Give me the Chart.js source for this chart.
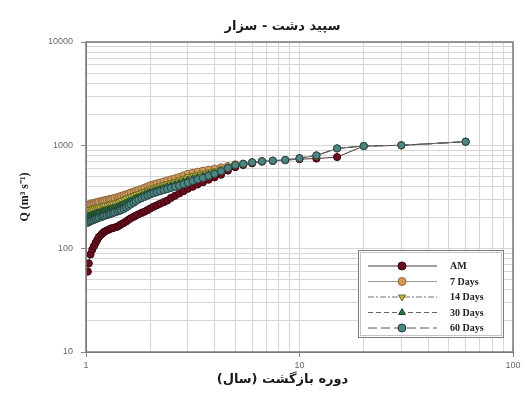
<!DOCTYPE html>
<html>
<head>
<meta charset="utf-8">
<title>سپید دشت - سزار</title>
<script src="https://cdn.jsdelivr.net/npm/chart.js@4.4.1/dist/chart.umd.min.js"></script>
<style>
  html, body { margin: 0; padding: 0; background: #ffffff; }
  #wrap { width: 527px; height: 395px; }
</style>
</head>
<body>
<div id="wrap"><canvas id="chart" width="527" height="395"></canvas></div>
<script>
// Return period (years), Weibull plotting positions, ascending
const returnPeriod = [
  1.02, 1.03, 1.05, 1.07, 1.09, 1.11, 1.13, 1.15, 1.18, 1.20,
  1.22, 1.25, 1.28, 1.30, 1.33, 1.36, 1.40, 1.43, 1.46, 1.50,
  1.54, 1.58, 1.62, 1.67, 1.71, 1.76, 1.82, 1.88, 1.94, 2.00,
  2.07, 2.14, 2.22, 2.31, 2.40, 2.50, 2.61, 2.73, 2.86, 3.00,
  3.16, 3.33, 3.53, 3.75, 4.00, 4.29, 4.62, 5.00, 5.45, 6.00,
  6.67, 7.50, 8.57, 10.00, 12.00, 15.00, 20.00, 30.00, 60.00
];

// Discharge Q (m3/s) for each series
const qAM = [
  60, 72, 88, 98, 106, 114, 122, 130, 137, 142,
  146, 150, 153, 156, 158, 160, 163, 167, 172, 177,
  183, 190, 197, 203, 209, 215, 222, 228, 236, 245,
  254, 262, 272, 282, 292, 310, 325, 342, 360, 380,
  398, 418, 440, 465, 490, 520, 570, 615, 645, 670,
  695, 705, 718, 735, 745, 770, 985, 1000, 1085
];
const q7Days = [
  265, 268, 271, 274, 277, 280, 283, 286, 288, 291,
  294, 297, 300, 303, 306, 310, 314, 319, 324, 330,
  336, 342, 349, 356, 363, 371, 380, 389, 399, 410,
  418, 427, 436, 446, 457, 468, 480, 494, 511, 530,
  543, 556, 568, 582, 595, 612, 630, 655, 665, 686,
  703, 710, 722, 750, 795, 930, 985, 1000, 1085
];
const q14Days = [
  235, 238, 241, 244, 247, 250, 253, 255, 258, 260,
  263, 266, 269, 272, 275, 279, 284, 288, 294, 300,
  307, 314, 321, 329, 336, 344, 353, 361, 370, 380,
  389, 398, 408, 418, 428, 439, 451, 465, 482, 500,
  514, 527, 540, 555, 570, 592, 622, 650, 663, 685,
  703, 710, 722, 750, 795, 932, 985, 1000, 1085
];
const q30Days = [
  205, 208, 211, 214, 217, 220, 223, 226, 229, 232,
  235, 238, 241, 244, 247, 251, 255, 260, 266, 272,
  279, 287, 295, 303, 311, 319, 328, 337, 346, 355,
  364, 373, 382, 391, 401, 411, 422, 435, 450, 465,
  480, 494, 508, 526, 545, 575, 612, 648, 662, 685,
  704, 710, 722, 750, 798, 934, 985, 1000, 1085
];
const q60Days = [
  178, 181, 184, 187, 190, 193, 196, 199, 202, 205,
  208, 211, 214, 217, 220, 224, 228, 232, 236, 242,
  250, 259, 268, 278, 288, 298, 308, 317, 326, 335,
  343, 351, 359, 368, 377, 387, 397, 408, 421, 435,
  452, 468, 484, 506, 530, 562, 602, 645, 662, 686,
  703, 710, 722, 752, 800, 935, 985, 1000, 1085
];

const seriesLabels = ['AM', '7 Days', '14 Days', '30 Days', '60 Days'];
const chartTitle = 'سپید دشت - سزار';
const xTitle = 'دوره بازگشت (سال)';
const yTitle = 'Q (m³ s⁻¹)';

// Log grid lines: 1..9 within each decade
function logGrid(minExp, maxExp) {
  const out = [];
  for (let e = minExp; e < maxExp; e++) {
    for (let s = 1; s <= 9; s++) out.push(s * Math.pow(10, e));
  }
  out.push(Math.pow(10, maxExp));
  return out;
}
const xGrid = logGrid(0, 2);
const yGrid = logGrid(1, 4);

function isDecade(v) {
  const l = Math.log10(v);
  return Math.abs(l - Math.round(l)) < 1e-9;
}

function toPoints(values) {
  return values.map((q, i) => ({ x: returnPeriod[i], y: q }));
}

const styles = {
  'AM':      { fill: '#6a0d1c', edge: '#3b0610', shape: 'circle',   rot: 0,   dash: [],           line: '#4a3a3a' },
  '7 Days':  { fill: '#d29a58', edge: '#8c6a44', shape: 'circle',   rot: 0,   dash: [],           line: '#9a9a9a' },
  '14 Days': { fill: '#bdb53c', edge: '#6e6a2a', shape: 'triangle', rot: 180, dash: [6, 2, 2, 2], line: '#777777' },
  '30 Days': { fill: '#2f6e45', edge: '#1d4a2c', shape: 'triangle', rot: 0,   dash: [5, 3],       line: '#666666' },
  '60 Days': { fill: '#4d8582', edge: '#25443f', shape: 'circle',   rot: 0,   dash: [9, 4],       line: '#555555' }
};

function makeDataset(label, values) {
  const s = styles[label];
  return {
    label: label,
    data: toPoints(values),
    borderColor: s.line,
    borderWidth: 1,
    borderDash: s.dash,
    backgroundColor: s.fill,
    pointBackgroundColor: s.fill,
    pointBorderColor: s.edge,
    pointBorderWidth: 1,
    pointStyle: s.shape,
    pointRotation: s.rot,
    pointRadius: 3.6,
    pointHoverRadius: 3.6,
    tension: 0,
    fill: false
  };
}

// Frame, titles and boxed legend drawn on top of the plot
const decorPlugin = {
  id: 'decor',
  afterDraw(chart) {
    const ctx = chart.ctx;
    const a = chart.chartArea;
    ctx.save();

    // plot frame
    ctx.strokeStyle = '#7a7a7a';
    ctx.lineWidth = 1.5;
    ctx.strokeRect(a.left, a.top, a.right - a.left, a.bottom - a.top);

    // chart title
    ctx.fillStyle = '#1a1a1a';
    ctx.direction = 'rtl';
    ctx.textAlign = 'center';
    ctx.textBaseline = 'middle';
    ctx.font = 'bold 13px "DejaVu Sans", sans-serif';
    const cx = (a.left + a.right) / 2 - 17;
    ctx.fillText(chartTitle, cx, a.top - 15);

    // x axis title
    ctx.fillText(xTitle, cx, a.bottom + 28);

    // y axis title
    ctx.direction = 'ltr';
    ctx.save();
    ctx.translate(a.left - 61, (a.top + a.bottom) / 2);
    ctx.rotate(-Math.PI / 2);
    ctx.font = 'bold 12px "Liberation Serif", serif';
    ctx.fillText(yTitle, 0, 0);
    ctx.restore();

    // legend box
    const bw = 145, bh = 87;
    const bx = a.right - 10 - bw;
    const by = a.bottom - 15 - bh;
    ctx.fillStyle = '#ffffff';
    ctx.fillRect(bx, by, bw, bh);
    ctx.lineWidth = 1;
    ctx.strokeStyle = '#7d7d7d';
    ctx.strokeRect(bx + 0.5, by + 0.5, bw, bh);
    ctx.strokeStyle = '#c4c4c4';
    ctx.strokeRect(bx + 2.5, by + 2.5, bw - 4, bh - 4);

    const byLabel = {};
    chart.data.datasets.forEach(d => { byLabel[d.label] = d; });
    seriesLabels.forEach((lab, i) => {
      const d = byLabel[lab];
      const y = by + 16 + i * 15.5;
      ctx.save();
      ctx.strokeStyle = d.borderColor;
      ctx.lineWidth = 1;
      ctx.setLineDash(d.borderDash);
      ctx.beginPath();
      ctx.moveTo(bx + 10, y);
      ctx.lineTo(bx + 79, y);
      ctx.stroke();
      ctx.setLineDash([]);
      ctx.fillStyle = d.pointBackgroundColor;
      ctx.strokeStyle = d.pointBorderColor;
      ctx.lineWidth = 1;
      Chart.helpers.drawPoint(ctx, {
        pointStyle: d.pointStyle,
        rotation: d.pointRotation,
        radius: 4,
        borderWidth: 1
      }, bx + 44, y);
      ctx.restore();
      ctx.fillStyle = '#222222';
      ctx.textAlign = 'left';
      ctx.textBaseline = 'middle';
      ctx.font = 'bold 10px "Liberation Serif", serif';
      ctx.fillText(lab, bx + 92, y + 0.5);
    });

    ctx.restore();
  }
};

const tickFont = { family: '"Liberation Sans", Arial, sans-serif', size: 9 };

new Chart(document.getElementById('chart'), {
  type: 'line',
  data: {
    // 60 Days first so it is painted on top
    datasets: [
      makeDataset('60 Days', q60Days),
      makeDataset('30 Days', q30Days),
      makeDataset('14 Days', q14Days),
      makeDataset('7 Days', q7Days),
      makeDataset('AM', qAM)
    ]
  },
  options: {
    responsive: false,
    animation: false,
    devicePixelRatio: 1,
    layout: { padding: { left: 0, right: 14, top: 42, bottom: 0 } },
    plugins: {
      legend: { display: false },
      title: { display: false },
      tooltip: { enabled: false }
    },
    scales: {
      x: {
        type: 'logarithmic',
        min: 1,
        max: 100,
        afterBuildTicks: s => { s.ticks = xGrid.map(v => ({ value: v })); },
        afterFit: s => { s.height = 43; },
        ticks: {
          autoSkip: false,
          maxRotation: 0,
          minRotation: 0,
          padding: 3,
          color: '#6a6a6a',
          font: tickFont,
          callback: v => (isDecade(v) ? String(v) : '')
        },
        grid: {
          color: '#d6d6d6',
          lineWidth: 1,
          tickLength: 5,
          tickColor: c => (c.tick && isDecade(c.tick.value) ? '#888888' : 'rgba(0,0,0,0)')
        },
        border: { color: '#7a7a7a', width: 1 }
      },
      y: {
        type: 'logarithmic',
        min: 10,
        max: 10000,
        afterBuildTicks: s => { s.ticks = yGrid.map(v => ({ value: v })); },
        afterFit: s => { s.width = 86; },
        ticks: {
          autoSkip: false,
          padding: 8,
          color: '#6a6a6a',
          font: tickFont,
          callback: v => (isDecade(v) ? String(v) : '')
        },
        grid: {
          color: '#d6d6d6',
          lineWidth: 1,
          tickLength: 5,
          tickColor: c => (c.tick && isDecade(c.tick.value) ? '#888888' : 'rgba(0,0,0,0)')
        },
        border: { color: '#7a7a7a', width: 1 }
      }
    }
  },
  plugins: [decorPlugin]
});
</script>
</body>
</html>
